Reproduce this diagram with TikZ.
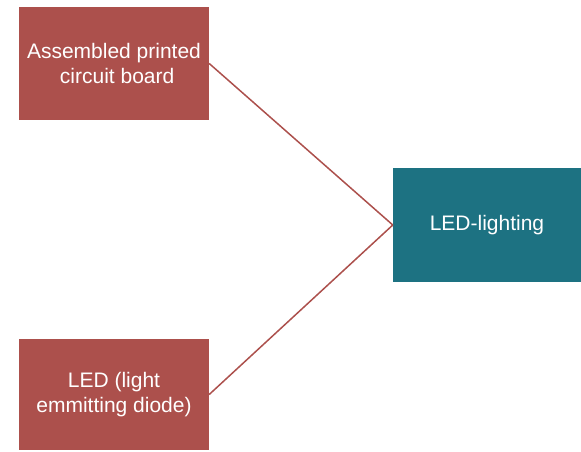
\documentclass[tikz,border=0pt]{standalone}
\usepackage{fontspec}
\setmainfont{Liberation Sans}
\usepackage{xcolor}
\usepackage{tikz}
\usetikzlibrary{positioning}
\definecolor{partred}{HTML}{AC504C}
\definecolor{prodteal}{HTML}{1D7282}

\begin{document}
\begin{tikzpicture}[x=1pt,y=1pt,font=\fontsize{21}{25}\selectfont,
    part/.style={fill=partred,text=white,align=center,minimum width=190pt,
      minimum height=112pt,inner sep=2pt},
    product/.style={part,fill=prodteal,minimum width=188pt,minimum height=114pt},
    link/.style={partred,line width=1.5pt}]
  \useasboundingbox (0,0) rectangle (581,451);
  % inputs
  \node[part] (pcb) at (114,387.5) {Assembled printed\\ \hspace{0.3em}circuit board};
  \node[part,minimum height=111pt] (led) at (114,56.5) {LED (light\\emmitting diode)};
  % output
  \node[product] (lighting) at (487,226) {LED-lighting};
  \draw[link] (pcb.east) -- (lighting.west);
  \draw[link] (led.east) -- (lighting.west);
\end{tikzpicture}
\end{document}
